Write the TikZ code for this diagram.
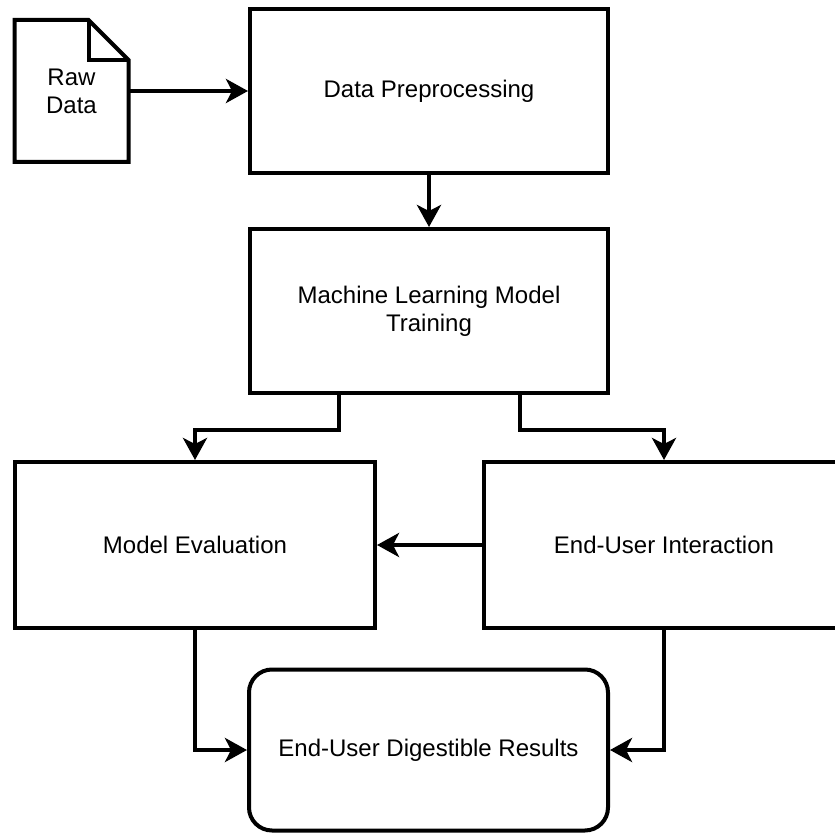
\documentclass[tikz,border=0pt]{standalone}
\usepackage{fontspec}
\setmainfont{Liberation Sans}
\usetikzlibrary{arrows.meta,calc}

\begin{document}
\begin{tikzpicture}[x=1pt, y=-1pt,
    line width=4pt,
    box/.style={draw, rectangle, inner sep=0pt, align=center,
      minimum width=358pt, minimum height=164pt,
      font=\fontsize{24}{28}\selectfont},
    flow/.style={draw, -{Stealth[length=22pt, width=24pt, inset=6pt]}}]
    \clip (0,0) rectangle (835,834);
    \fill[white] (0,0) rectangle (835,834);

    \node[inner sep=0pt, align=center, minimum width=110pt, minimum height=138pt,
      font=\fontsize{24}{28}\selectfont] (raw) at (71.5,91) {Raw\\Data};
    \draw (raw.north west) -- ([xshift=-40pt]raw.north east)
      -- ([yshift=-40pt]raw.north east) -- (raw.south east)
      -- (raw.south west) -- cycle;
    \draw ([xshift=-40pt]raw.north east) -- ([xshift=-40pt, yshift=-40pt]raw.north east)
      -- ([yshift=-40pt]raw.north east);

    \node[box] (prep) at (429,91.5) {Data Preprocessing};
    \node[box] (train) at (429,311) {Machine Learning Model\\Training};
    \node[box, minimum width=360pt, minimum height=166pt] (eval) at (195,545) {Model Evaluation};
    \node[box, minimum width=360pt, minimum height=166pt] (interact) at (664,545) {End-User Interaction};
    \node[box, rounded corners=23pt, minimum width=359pt, minimum height=161pt] (results) at (428.5,750)
      {End-User Digestible Results};

    \path[flow] (raw.east) -- (raw.east -| prep.west);
    \path[flow] (prep.south) -- (train.north);
    \path[flow] ($(train.south west)!0.25!(train.south east)$) -- ++(0,35) -| (eval.north);
    \path[flow] ($(train.south west)!0.75!(train.south east)$) -- ++(0,35) -| (interact.north);
    \path[flow] (interact.west) -- (eval.east);
    \path[flow] (eval.south) |- (results.west);
    \path[flow] (interact.south) |- (results.east);
\end{tikzpicture}
\end{document}
